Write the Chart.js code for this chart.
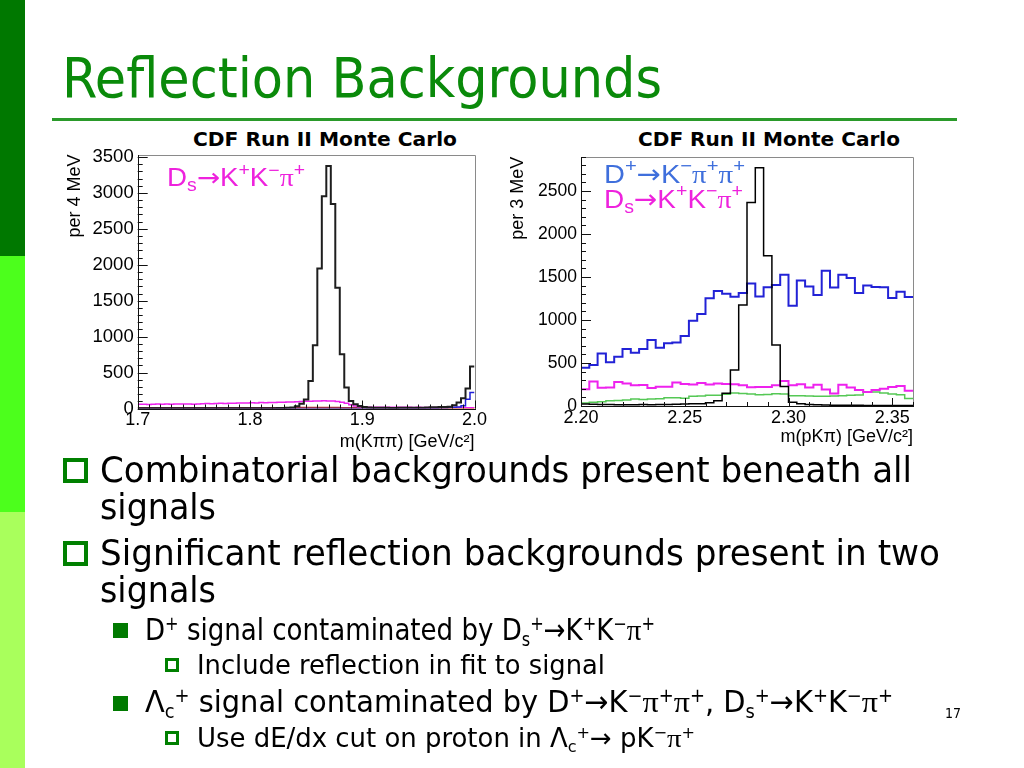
<!DOCTYPE html>
<html>
<head>
<meta charset="utf-8">
<script src="https://cdn.jsdelivr.net/npm/chart.js@4.4.1/dist/chart.umd.min.js"></script>
<style>
  body { margin: 0; background: #fff; }
  #slide { position: relative; width: 1024px; height: 768px; overflow: hidden; background: #fff; }
  .abs { position: absolute; white-space: nowrap; line-height: 1; transform-origin: 0 0; }
  .vd { font-family: "DejaVu Sans Condensed", "DejaVu Sans", sans-serif; font-stretch: condensed; }
  .hv { font-family: "Liberation Sans", Arial, sans-serif; }
  .pi { font-family: "Liberation Serif", "DejaVu Serif", serif; }
  .ar { font-family: "DejaVu Sans", sans-serif; }
  sup, sub { font-size: 0.62em; line-height: 0; position: relative; vertical-align: baseline; }
  sup { top: -0.55em; }
  sub { top: 0.3em; }
  .hv sup { font-size: 0.7em; top: -0.6em; }
  .hv sub { font-size: 0.7em; top: 0.3em; }
  .box { position: absolute; box-sizing: border-box; border: 4px solid #008000; }
  .box.small { border-width: 3px; }
  .fill { position: absolute; background: #007a00; }
  canvas { position: absolute; }
</style>
</head>
<body>
<div id="slide">
  <div class="abs" style="left:0;top:0;width:25px;height:256px;background:#007800"></div>
  <div class="abs" style="left:0;top:256px;width:25px;height:256px;background:#4cff1c"></div>
  <div class="abs" style="left:0;top:512px;width:25px;height:256px;background:#a9ff5c"></div>

  <div class="abs vd fit" data-w="600" style="left:62px;top:50px;font-size:56px;color:#0a8a0a">Reflection Backgrounds</div>
  <div class="abs" style="left:52px;top:118px;width:905px;height:3px;background:#2a9a2a"></div>

  <div class="abs vd fit" data-w="264" style="left:193px;top:130px;font-size:19px;font-weight:bold">CDF Run II Monte Carlo</div>
  <div class="abs vd fit" data-w="262" style="left:638px;top:130px;font-size:19px;font-weight:bold">CDF Run II Monte Carlo</div>

  <canvas id="leftChart" width="428" height="330" style="left:62px;top:125px;width:428px;height:330px"></canvas>
  <canvas id="rightChart" width="420" height="330" style="left:505px;top:125px;width:420px;height:330px"></canvas>

  <div class="abs hv fit" data-w="138" style="left:167px;top:165px;font-size:25px;color:#ee22dd">D<sub>s</sub><span class="ar">→</span>K<sup>+</sup>K<sup>−</sup><span class="pi">π</span><sup>+</sup></div>
  <div class="abs hv fit" data-w="141" style="left:604px;top:161px;font-size:26px;color:#3f6fdc">D<sup>+</sup><span class="ar">→</span>K<sup>−</sup><span class="pi">π</span><sup>+</sup><span class="pi">π</span><sup>+</sup></div>
  <div class="abs hv fit" data-w="139" style="left:604px;top:186px;font-size:26px;color:#ee22dd">D<sub>s</sub><span class="ar">→</span>K<sup>+</sup>K<sup>−</sup><span class="pi">π</span><sup>+</sup></div>

  <div class="box" style="left:63px;top:458px;width:25px;height:25px"></div>
  <div class="abs vd fit" data-w="812" style="left:100px;top:452px;font-size:36px">Combinatorial backgrounds present beneath all</div>
  <div class="abs vd fit" data-w="116" style="left:100px;top:489px;font-size:36px">signals</div>
  <div class="box" style="left:63px;top:541px;width:25px;height:25px"></div>
  <div class="abs vd fit" data-w="840" style="left:100px;top:535px;font-size:36px">Significant reflection backgrounds present in two</div>
  <div class="abs vd fit" data-w="116" style="left:100px;top:572px;font-size:36px">signals</div>

  <div class="fill" style="left:113px;top:623px;width:15px;height:15px"></div>
  <div class="abs vd fit" data-w="510" style="left:145px;top:615px;font-size:30px">D<sup>+</sup> signal contaminated by D<sub>s</sub><sup>+</sup>→K<sup>+</sup>K<sup>−</sup><span class="pi">π</span><sup>+</sup></div>
  <div class="box small" style="left:165px;top:658px;width:14px;height:14px"></div>
  <div class="abs vd fit" data-w="408" style="left:197px;top:652px;font-size:26px">Include reflection in fit to signal</div>
  <div class="fill" style="left:113px;top:696px;width:15px;height:15px"></div>
  <div class="abs vd fit" data-w="748" style="left:145px;top:687px;font-size:30px">Λ<sub>c</sub><sup>+</sup> signal contaminated by D<sup>+</sup>→K<sup>−</sup><span class="pi">π</span><sup>+</sup><span class="pi">π</span><sup>+</sup>, D<sub>s</sub><sup>+</sup>→K<sup>+</sup>K<sup>−</sup><span class="pi">π</span><sup>+</sup></div>
  <div class="box small" style="left:165px;top:731px;width:14px;height:14px"></div>
  <div class="abs vd fit" data-w="498" style="left:197px;top:725px;font-size:26px">Use dE/dx cut on proton in Λ<sub>c</sub><sup>+</sup>→ pK<sup>−</sup><span class="pi">π</span><sup>+</sup></div>

  <div class="abs vd" style="left:945px;top:706px;font-size:14px">17</div>
</div>

<script>
// left: m(K pi pi), 4 MeV bins from 1.700
const leftLo = 1.7;
const leftBinWidth = 0.004;
const leftDplus = [
  2, 2, 2, 2, 2, 2, 2, 2, 2, 2, 2, 2, 2, 2, 2, 2, 2, 2, 2, 2,
  2, 2, 2, 3, 3, 3, 3, 3, 4, 4, 5, 6, 8, 11, 15, 30, 65, 125, 384, 880,
  1950, 2955, 3375, 2845, 1681, 755, 292, 106, 60, 35, 22, 15, 12, 10, 10, 9, 8, 8, 9, 10,
  10, 11, 12, 12, 14, 16, 18, 20, 22, 25, 46, 83, 143, 278, 583,
];
const leftDsRefl = [
  58, 60, 57, 59, 61, 58, 62, 60, 63, 61, 64, 62, 60, 63, 66, 68, 65, 70, 72, 70,
  74, 72, 76, 78, 75, 80, 78, 82, 80, 84, 82, 86, 88, 90, 92, 95, 98, 100, 102, 104,
  106, 108, 106, 104, 98, 88, 72, 52, 36, 26, 20, 19, 18, 18, 17, 18, 17, 16, 17, 16,
  16, 15, 16, 15, 15, 14, 15, 14, 14, 13, 14, 13, 13, 12, 12,
];
const leftBlue = [
  0, 0, 0, 0, 0, 0, 0, 0, 0, 0, 0, 0, 0, 0, 0, 0, 0, 0, 0, 0,
  0, 0, 0, 0, 0, 0, 0, 0, 0, 0, 0, 0, 0, 0, 0, 0, 0, 0, 0, 0,
  0, 0, 0, 0, 0, 0, 0, 0, 0, 0, 0, 0, 0, 0, 0, 0, 0, 0, 0, 0,
  0, 0, 0, 0, 3, 4, 5, 6, 8, 15, 18, 22, 37, 130, 222,
];
const leftRed = [
  9, 9, 9, 9, 9, 9, 9, 9, 9, 9, 9, 9, 9, 9, 9, 9, 9, 9, 9, 9,
  9, 9, 9, 9, 9, 9, 9, 9, 9, 9, 10, 10, 10, 11, 11, 12, 13, 14, 15, 15,
  15, 15, 14, 14, 13, 12, 11, 10, 10, 10, 10, 10, 10, 10, 10, 10, 10, 10, 10, 10,
  10, 10, 10, 10, 10, 10, 10, 10, 10, 10, 10, 10, 10, 10, 10,
];
const leftOrange = [
  4, 4, 4, 4, 4, 4, 4, 4, 4, 4, 4, 4, 4, 4, 4, 4, 4, 4, 4, 4,
  4, 4, 4, 4, 4, 4, 4, 4, 4, 4, 4, 4, 4, 4, 4, 4, 4, 4, 4, 4,
  4, 4, 4, 4, 4, 4, 4, 4, 4, 4, 4, 4, 4, 4, 4, 4, 4, 4, 4, 4,
  4, 4, 4, 4, 4, 4, 4, 4, 4, 4, 4, 4, 4, 4, 4,
];
const leftXTicks = [1.7, 1.8, 1.9, 2.0];
const leftYTicks = [0, 500, 1000, 1500, 2000, 2500, 3000, 3500];

// right: m(p K pi), 4 MeV bins from 2.200
const rightLo = 2.2;
const rightBinWidth = 0.004;
const rightLambda = [
  22, 20, 18, 18, 15, 14, 15, 16, 15, 17, 18, 20, 22, 26, 27, 39, 62, 147, 419, 1174,
  2368, 2771, 1748, 709, 228, 44, 25, 18, 14, 12, 10, 9, 8, 8, 7, 7, 6, 6, 5, 5,
];
const rightDplusRefl = [
  446, 477, 612, 508, 574, 663, 620, 663, 767, 678, 729, 740, 814, 992, 1070, 1252, 1337, 1306, 1271, 1314,
  1426, 1275, 1380, 1407, 1527, 1165, 1460, 1390, 1290, 1573, 1378, 1527, 1490, 1314, 1403, 1384, 1380, 1255, 1329, 1268,
];
const rightDsRefl = [
  195, 285, 212, 215, 280, 262, 240, 243, 210, 225, 225, 272, 255, 250, 268, 250, 262, 255, 252, 242,
  218, 222, 222, 240, 290, 242, 252, 215, 248, 192, 145, 248, 215, 185, 162, 185, 200, 220, 232, 178,
];
const rightGreen = [
  35, 45, 50, 60, 65, 70, 80, 75, 80, 85, 97, 95, 90, 112, 115, 124, 124, 136, 150, 145,
  140, 132, 135, 143, 140, 118, 118, 115, 112, 112, 115, 118, 124, 128, 167, 163, 151, 140, 132, 88,
];
const rightXTicks = [2.2, 2.25, 2.3, 2.35];
const rightYTicks = [0, 500, 1000, 1500, 2000, 2500];

Chart.defaults.font.family = '"Liberation Sans", Arial, sans-serif';
Chart.defaults.color = '#000';

function steps(lo, width, values) {
  const pts = values.map((v, i) => ({ x: lo + i * width, y: v }));
  pts.push({ x: lo + values.length * width, y: values[values.length - 1] });
  return pts;
}

function hist(values, lo, width, color, lineWidth, order) {
  return {
    data: steps(lo, width, values),
    borderColor: color,
    borderWidth: lineWidth,
    stepped: true,
    pointRadius: 0,
    fill: false,
    order,
  };
}

// ROOT style frame with ticks pointing into the plot
const rootAxes = {
  id: 'rootAxes',
  afterDatasetsDraw(chart, args, o) {
    const { ctx, chartArea: a } = chart;
    const xs = chart.scales.x;
    const ys = chart.scales.y;
    ctx.save();
    ctx.lineWidth = 1;
    ctx.strokeStyle = '#8a8a8a';
    ctx.beginPath();
    ctx.moveTo(Math.round(a.left) + 0.5, Math.round(a.top) + 0.5);
    ctx.lineTo(Math.round(a.right) + 0.5, Math.round(a.top) + 0.5);
    ctx.lineTo(Math.round(a.right) + 0.5, Math.round(a.bottom) + 0.5);
    ctx.stroke();
    ctx.strokeStyle = '#111';
    ctx.beginPath();
    ctx.moveTo(Math.round(a.left) + 0.5, Math.round(a.top));
    ctx.lineTo(Math.round(a.left) + 0.5, Math.round(a.bottom) + 0.5);
    ctx.lineTo(Math.round(a.right) + 1, Math.round(a.bottom) + 0.5);
    const nx = Math.round((xs.max - xs.min) / o.xMinor);
    for (let i = 0; i <= nx; i++) {
      const px = Math.round(xs.getPixelForValue(xs.min + i * o.xMinor)) + 0.5;
      const len = i % o.xEvery === 0 ? 8 : 4;
      ctx.moveTo(px, a.bottom);
      ctx.lineTo(px, a.bottom - len);
    }
    const ny = Math.floor(ys.max / o.yMinor + 1e-6);
    for (let i = 0; i <= ny; i++) {
      const py = Math.round(ys.getPixelForValue(i * o.yMinor)) + 0.5;
      const len = i % o.yEvery === 0 ? 10 : 5;
      ctx.moveTo(a.left, py);
      ctx.lineTo(a.left + len, py);
    }
    ctx.stroke();
    ctx.restore();
  },
};

function makeOptions(cfg) {
  return {
    responsive: false,
    animation: false,
    layout: { padding: cfg.padding },
    plugins: {
      legend: { display: false },
      tooltip: { enabled: false },
      rootAxes: { xMinor: 0.01, xEvery: cfg.xEvery, yMinor: 100, yEvery: 5 },
    },
    scales: {
      x: {
        type: 'linear',
        min: cfg.xMin,
        max: cfg.xMax,
        grid: { display: false, drawTicks: false },
        border: { display: false },
        ticks: {
          font: { size: 18 },
          padding: 1,
          maxRotation: 0,
          autoSkip: false,
          callback: (v) => v.toFixed(cfg.xDigits),
        },
        afterBuildTicks: (s) => { s.ticks = cfg.xTicks.map((value) => ({ value })); },
        afterFit: (s) => { s.height = cfg.xHeight; },
        title: {
          display: true,
          text: cfg.xTitle,
          align: 'end',
          font: { size: 18 },
          padding: 0,
        },
      },
      y: {
        min: 0,
        max: cfg.yMax,
        grid: { display: false, drawTicks: false },
        border: { display: false },
        ticks: {
          font: { size: cfg.ySize },
          padding: 4,
          autoSkip: false,
          callback: (v) => String(v),
        },
        afterBuildTicks: (s) => { s.ticks = cfg.yTicks.map((value) => ({ value })); },
        afterFit: (s) => { s.width = cfg.yWidth; },
        title: {
          display: true,
          text: cfg.yTitle,
          align: 'end',
          font: { size: 18 },
          padding: { top: 2, bottom: 0 },
        },
      },
    },
  };
}

new Chart(document.getElementById('leftChart'), {
  type: 'line',
  data: {
    datasets: [
      hist(leftDplus, leftLo, leftBinWidth, '#1e1e1e', 2, 1),
      hist(leftBlue, leftLo, leftBinWidth, '#2020d8', 1.5, 2),
      hist(leftDsRefl, leftLo, leftBinWidth, '#ee22ee', 1.5, 3),
      hist(leftRed, leftLo, leftBinWidth, '#c2361c', 1.5, 4),
      hist(leftOrange, leftLo, leftBinWidth, '#f0a020', 1.5, 5),
    ],
  },
  options: makeOptions({
    padding: { top: 29.5, right: 15.5, bottom: 2.5, left: 0 },
    xMin: 1.7, xMax: 2.0, xTicks: leftXTicks, xDigits: 1, xEvery: 10, xHeight: 44,
    xTitle: 'm(Kππ) [GeV/c²]',
    yMax: 3535, yTicks: leftYTicks, yWidth: 75.7, ySize: 18.5,
    yTitle: 'per 4 MeV',
  }),
  plugins: [rootAxes],
});

new Chart(document.getElementById('rightChart'), {
  type: 'line',
  data: {
    datasets: [
      hist(rightLambda, rightLo, rightBinWidth, '#000', 1.5, 1),
      hist(rightDplusRefl, rightLo, rightBinWidth, '#2222d6', 2, 2),
      hist(rightDsRefl, rightLo, rightBinWidth, '#ee22ee', 2, 3),
      hist(rightGreen, rightLo, rightBinWidth, '#55c855', 1.5, 4),
    ],
  },
  options: makeOptions({
    padding: { top: 31.7, right: 12, bottom: 7.5, left: 0 },
    xMin: 2.2, xMax: 2.36, xTicks: rightXTicks, xDigits: 2, xEvery: 5, xHeight: 41.5,
    xTitle: 'm(pKπ) [GeV/c²]',
    yMax: 2900, yTicks: rightYTicks, yWidth: 76, ySize: 17.5,
    yTitle: 'per 3 MeV',
  }),
  plugins: [rootAxes],
});

function fitText() {
  document.querySelectorAll('.fit').forEach((el) => {
    el.style.transform = 'none';
    const w = el.getBoundingClientRect().width;
    if (w > 0) el.style.transform = `scaleX(${el.dataset.w / w})`;
  });
}
fitText();
document.fonts.ready.then(fitText);
</script>
</body>
</html>
